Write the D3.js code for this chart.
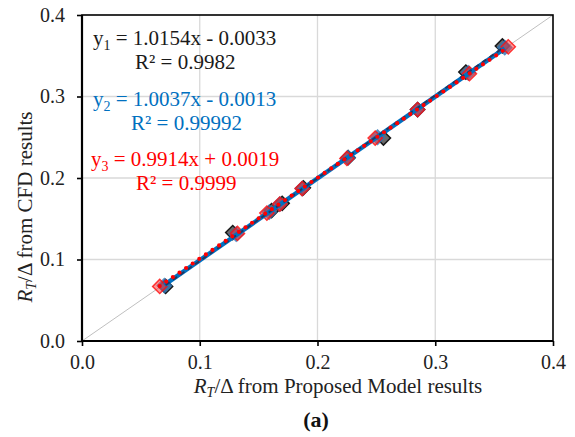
<!DOCTYPE html>
<html>
<head>
<meta charset="utf-8">
<script src="https://cdn.jsdelivr.net/npm/d3@7"></script>
<style>
  body { margin: 0; background: #fff; }
  text { font-family: "Liberation Serif", "Times New Roman", Times, serif; }
</style>
</head>
<body>
<script>
// proposed model (x) vs CFD (y), three cases
const x1 = [0.071, 0.128, 0.161, 0.170, 0.188, 0.226, 0.256, 0.285, 0.326, 0.357];
const y1 = [0.067, 0.133, 0.160, 0.169, 0.188, 0.225, 0.249, 0.284, 0.330, 0.362];
const x2 = [0.070, 0.131, 0.159, 0.168, 0.187, 0.226, 0.251, 0.285, 0.328, 0.359];
const y2 = [0.068, 0.131, 0.158, 0.168, 0.187, 0.225, 0.250, 0.284, 0.329, 0.360];
const x3 = [0.066, 0.132, 0.157, 0.168, 0.187, 0.225, 0.249, 0.285, 0.329, 0.362];
const y3 = [0.067, 0.132, 0.157, 0.168, 0.187, 0.224, 0.249, 0.284, 0.328, 0.361];

const slopes = [1.0154, 1.0037, 0.9914];
const intercepts = [-0.0033, -0.0013, 0.0019];
const eqLabels = [["y", "1", " = 1.0154x - 0.0033"], ["y", "2", " = 1.0037x - 0.0013"], ["y", "3", " = 0.9914x + 0.0019"]];
const r2Labels = ["R² = 0.9982", "R² = 0.99992", "R² = 0.9999"];
const ticks = [0, 0.1, 0.2, 0.3, 0.4];

const W = 575, H = 437;
const mL = 82, mR = 553, mT = 15, mB = 341;

const x = d3.scaleLinear().domain([0, 0.4]).range([mL, mR]);
const y = d3.scaleLinear().domain([0, 0.4]).range([mB, mT]);

const svg = d3.select("body").append("svg")
    .attr("width", W).attr("height", H)
    .attr("xmlns", "http://www.w3.org/2000/svg");

// grid
svg.append("g").selectAll("line").data(ticks.slice(1, 4)).enter().append("line")
    .attr("x1", d => x(d)).attr("x2", d => x(d))
    .attr("y1", mT).attr("y2", mB)
    .style("stroke", "#d9d9d9").style("stroke-width", 1.3);
svg.append("g").selectAll("line").data(ticks.slice(1, 4)).enter().append("line")
    .attr("x1", mL).attr("x2", mR)
    .attr("y1", d => y(d)).attr("y2", d => y(d))
    .style("stroke", "#d9d9d9").style("stroke-width", 1.3);

// 1:1 line
svg.append("line")
    .attr("x1", x(0)).attr("y1", y(0)).attr("x2", x(0.4)).attr("y2", y(0.4))
    .style("stroke", "#bfbfbf").style("stroke-width", 1);

// frame
svg.append("rect")
    .attr("x", mL).attr("y", mT)
    .attr("width", mR - mL).attr("height", mB - mT)
    .style("fill", "none").style("stroke", "#000").style("stroke-width", 1.6);
svg.append("line").attr("x1", mL).attr("x2", mL).attr("y1", mT).attr("y2", mB + 1)
    .style("stroke", "#000").style("stroke-width", 2.2);
svg.append("line").attr("x1", mL - 1).attr("x2", mR).attr("y1", mB).attr("y2", mB)
    .style("stroke", "#000").style("stroke-width", 2.2);

// axes
const xAxis = svg.append("g").attr("transform", `translate(0,${mB})`)
    .call(d3.axisBottom(x).tickValues(ticks).tickFormat(d3.format(".1f")).tickSize(5).tickPadding(9));
const yAxis = svg.append("g").attr("transform", `translate(${mL},0)`)
    .call(d3.axisLeft(y).tickValues(ticks).tickFormat(d3.format(".1f")).tickSize(5).tickPadding(12));
[xAxis, yAxis].forEach(g => {
  g.select(".domain").remove();
  g.selectAll("line").style("stroke", "#000").style("stroke-width", 1.6);
  g.selectAll("text").style("font-size", "20px").style("fill", "#222");
});

// markers
const diamond = d3.symbol().type(d3.symbolSquare).size(100);
const series = [
  {xs: x1, ys: y1, fill: "#595959", stroke: "#000", op: 0.9},
  {xs: x2, ys: y2, fill: "#2e75b6", stroke: "#2e75b6", op: 0.8},
  {xs: x3, ys: y3, fill: "rgba(255,50,50,0.6)", stroke: "#ff1010", op: 0.85}
];
series.forEach(s => {
  svg.append("g").selectAll("path").data(s.xs.map((v, i) => [v, s.ys[i]])).enter().append("path")
      .attr("d", diamond)
      .attr("transform", d => `translate(${x(d[0])},${y(d[1])}) rotate(45)`)
      .style("fill", s.fill).style("stroke", s.stroke).style("stroke-width", 1.5)
      .style("opacity", s.op);
});

// trendlines
const trend = (i, xs) => [d3.min(xs), d3.max(xs)].map(v => [v, slopes[i] * v + intercepts[i]]);
const line = d3.line().x(d => x(d[0])).y(d => y(d[1]));
svg.append("path").attr("d", line(trend(1, x2)))
    .style("stroke", "#0070c0").style("stroke-width", 4.5).style("fill", "none");
svg.append("path").attr("d", line(trend(0, x1)))
    .style("stroke", "#1f3864").style("stroke-width", 2).style("stroke-dasharray", "5,4").style("fill", "none");
svg.append("path").attr("d", line(trend(2, x3)))
    .style("stroke", "#ff0000").style("stroke-width", 4.2).style("stroke-linecap", "round")
    .style("stroke-dasharray", "0,8").style("fill", "none");

// equations
const colors = ["#1a1a1a", "#0070c0", "#ff0000"];
const eqPos = [[93, 45], [93, 106], [91, 166]];
const r2Pos = [[135, 69], [131, 130], [136, 190]];
eqLabels.forEach((e, i) => {
  const t = svg.append("text").attr("x", eqPos[i][0]).attr("y", eqPos[i][1])
      .style("font-size", "21px").style("fill", colors[i]);
  t.append("tspan").text(e[0]);
  t.append("tspan").attr("dy", 5).style("font-size", "14px").text(e[1]);
  t.append("tspan").attr("dy", -5).text(e[2]);
  svg.append("text").attr("x", r2Pos[i][0]).attr("y", r2Pos[i][1])
      .style("font-size", "21px").style("fill", colors[i]).text(r2Labels[i]);
});

// axis titles
const xt = svg.append("text").attr("x", 338).attr("y", 393).attr("text-anchor", "middle")
    .style("font-size", "21px").style("fill", "#222");
xt.append("tspan").style("font-style", "italic").text("R");
xt.append("tspan").attr("dy", 4).style("font-style", "italic").style("font-size", "14px").text("T");
xt.append("tspan").attr("dy", -4).text("/Δ from Proposed Model results");

const yt = svg.append("text").attr("transform", "translate(32,207) rotate(-90)").attr("text-anchor", "middle")
    .style("font-size", "21px").style("fill", "#222");
yt.append("tspan").style("font-style", "italic").text("R");
yt.append("tspan").attr("dy", 4).style("font-style", "italic").style("font-size", "14px").text("T");
yt.append("tspan").attr("dy", -4).text("/Δ from CFD results");

svg.append("text").attr("x", 316).attr("y", 427).attr("text-anchor", "middle")
    .style("font-size", "22px").style("font-weight", "bold").style("fill", "#111").text("(a)");
</script>
</body>
</html>
